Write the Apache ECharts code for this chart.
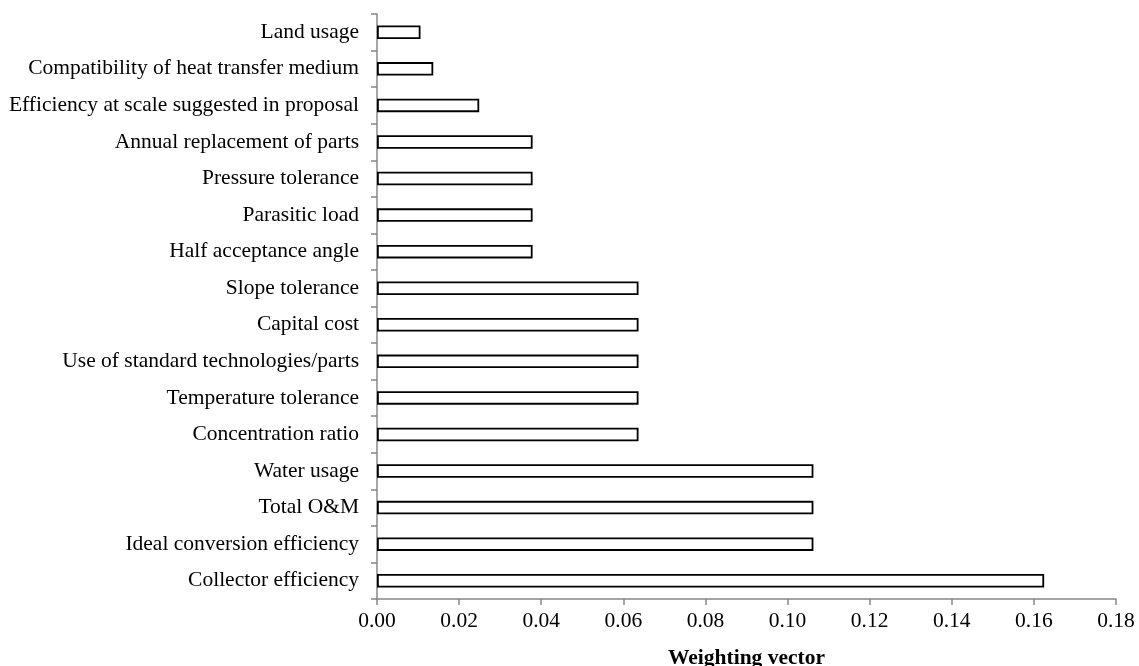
<!DOCTYPE html>
<html>
<head>
<meta charset="utf-8">
<script src="https://cdn.jsdelivr.net/npm/echarts@6/dist/echarts.min.js"></script>
<style>
  html, body { margin: 0; padding: 0; background: #fff; }
  #chart { width: 1139px; height: 666px; }
</style>
</head>
<body>
<div id="chart"></div>
<script>
// Criteria, listed bottom to top as they appear on the category axis
const criteria = [
  'Collector efficiency',
  'Ideal conversion efficiency',
  'Total O&M',
  'Water usage',
  'Concentration ratio',
  'Temperature tolerance',
  'Use of standard technologies/parts',
  'Capital cost',
  'Slope tolerance',
  'Half acceptance angle',
  'Parasitic load',
  'Pressure tolerance',
  'Annual replacement of parts',
  'Efficiency at scale suggested in proposal',
  'Compatibility of heat transfer medium',
  'Land usage'
];

// Weighting vector for each criterion
const weights = [
  0.1625, 0.1063, 0.1063, 0.1063,
  0.0637, 0.0637, 0.0637, 0.0637, 0.0637,
  0.0379, 0.0379, 0.0379, 0.0379,
  0.0249, 0.0137, 0.0106
];

// Value axis range and step
const xMin = 0;
const xMax = 0.18;
const xStep = 0.02;
const xTitle = 'Weighting vector';

const font = '"Liberation Serif", "Times New Roman", serif';
const axisGrey = '#888888';

const chart = echarts.init(document.getElementById('chart'), null, { renderer: 'canvas' });

chart.setOption({
  backgroundColor: '#ffffff',
  animation: false,
  grid: {
    left: 377, right: 23, top: 14, bottom: 67,
    containLabel: false,
    outerBoundsMode: 'none'
  },
  xAxis: {
    type: 'value',
    min: xMin,
    max: xMax,
    interval: xStep,
    name: xTitle,
    nameLocation: 'middle',
    nameGap: 48,
    nameTextStyle: { fontFamily: font, fontSize: 21.5, fontWeight: 'bold', color: '#000' },
    axisLine: { show: true, lineStyle: { color: axisGrey, width: 1.5 } },
    axisTick: { show: true, length: 6, lineStyle: { color: axisGrey, width: 1.5 } },
    axisLabel: {
      fontFamily: font, fontSize: 21.5, color: '#000', margin: 11,
      formatter: v => v.toFixed(2)
    },
    splitLine: { show: false }
  },
  yAxis: {
    type: 'category',
    data: criteria,
    axisLine: { show: true, lineStyle: { color: axisGrey, width: 1.5 } },
    axisTick: { show: true, length: 6, lineStyle: { color: axisGrey, width: 1.5 } },
    axisLabel: { fontFamily: font, fontSize: 21.5, color: '#000', margin: 18 },
    splitLine: { show: false }
  },
  series: [{
    type: 'bar',
    data: weights,
    barWidth: 13.5,
    itemStyle: { color: '#ffffff', borderColor: '#000000', borderWidth: 1.8 },
    silent: true
  }]
});
</script>
</body>
</html>
